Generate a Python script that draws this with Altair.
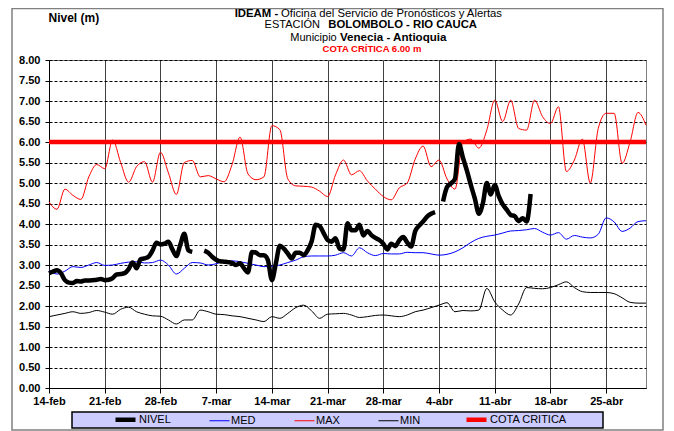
import altair as alt
import pandas as pd

# ---------------- data ----------------
START = "2021-02-14"
END = "2021-04-30"

MED_VALUES = [2.88, 2.78, 2.85, 2.96, 2.94, 3.00, 3.06, 2.99, 3.00, 3.04,
              3.07, 3.08, 3.05, 3.06, 3.12, 3.00, 2.78, 2.92, 3.06, 3.05,
              3.00, 3.03, 3.09, 3.10, 3.08, 3.04, 3.00, 2.96, 2.97, 3.00,
              3.06, 3.12, 3.20, 3.22, 3.22, 3.22, 3.24, 3.30, 3.22, 3.42,
              3.30, 3.23, 3.28, 3.27, 3.27, 3.31, 3.30, 3.30, 3.27, 3.24,
              3.26, 3.32, 3.42, 3.55, 3.65, 3.70, 3.73, 3.78, 3.83, 3.84,
              3.86, 3.89, 3.80, 3.73, 3.79, 3.63, 3.72, 3.68, 3.66, 3.75,
              4.15, 4.05, 3.82, 3.90, 4.06, 4.08]

MAX_VALUES = [4.54, 4.36, 4.85, 4.70, 4.60, 5.15, 5.45, 5.35, 6.05, 5.50,
              5.02, 5.40, 5.52, 5.02, 5.75, 5.25, 4.72, 5.50, 5.55, 5.15,
              5.18, 5.10, 5.03, 5.45, 6.12, 5.22, 5.08, 5.15, 6.40, 6.30,
              5.10, 4.93, 4.92, 4.90, 4.80, 4.67, 5.20, 5.56, 5.20, 5.30,
              5.05, 4.85, 4.67, 4.59, 4.88, 5.00, 5.58, 5.90, 5.40, 5.56,
              5.10, 4.85, 6.00, 6.07, 5.85, 6.29, 7.02, 6.50, 7.02, 6.33,
              6.29, 7.02, 6.62, 6.45, 6.86, 5.28, 5.56, 6.07, 5.00, 6.33,
              6.70, 6.70, 5.48, 6.00, 6.72, 6.41]

MIN_VALUES = [1.74, 1.78, 1.82, 1.86, 1.82, 1.84, 1.89, 1.85, 1.80, 1.92,
              1.97, 1.86, 1.80, 1.76, 1.75, 1.66, 1.56, 1.66, 1.66, 1.90,
              1.86, 1.80, 1.79, 1.76, 1.74, 1.70, 1.66, 1.62, 1.74, 1.70,
              1.82, 1.96, 2.02, 1.88, 1.70, 1.80, 1.81, 1.82, 1.78, 1.72,
              1.74, 1.77, 1.78, 1.76, 1.74, 1.78, 1.86, 1.90, 1.96, 2.02,
              2.08, 1.86, 1.89, 1.88, 1.90, 2.43, 2.10, 1.90, 1.78, 2.05,
              2.45, 2.43, 2.42, 2.45, 2.52, 2.59, 2.45, 2.35, 2.33, 2.33,
              2.33, 2.30, 2.20, 2.09, 2.07, 2.07]

# two readings per day, None = no reading
NIVEL_VALUES = [2.80, 2.84, 2.87, 2.80, 2.63, 2.57, 2.56, 2.61, 2.60, 2.62,
                2.62, 2.63, 2.64, 2.66, 2.63, 2.64, 2.68, 2.77, 2.78, 2.80,
                2.90, 3.06, 2.92, 3.14, 3.16, 3.20, 3.35, 3.54, 3.50, 3.52,
                3.57, 3.38, 3.22, 3.50, 3.76, 3.36, 3.32, None, None, 3.35,
                3.30, 3.20, 3.13, 3.09, 3.08, 3.07, 3.05, 3.00, 3.04, 2.92,
                2.82, 3.32, 3.30, 3.24, 3.24, 3.12, 2.63, 3.04, 3.47, 3.40,
                3.28, 3.16, 3.30, 3.30, 3.24, 3.36, 3.58, 3.98, 3.95, 3.78,
                3.61, 3.57, 3.65, 3.40, 3.38, 4.02, 3.85, 3.85, 3.98, 3.72,
                3.83, 3.73, 3.66, 3.61, 3.52, 3.38, 3.52, 3.46, 3.60, 3.68,
                3.55, 3.45, 3.82, 3.96, 4.06, 4.18, 4.25, 4.29, None, 4.55,
                4.90, 4.99, 5.10, 5.95, 5.62, 5.30, 4.95, 4.62, 4.25, 4.50,
                5.00, 4.72, 4.95, 4.68, 4.48, 4.35, 4.22, 4.19, 4.07, 4.14,
                4.06, 4.73]

COTA_CRITICA = 6.0

SERIES = ["NIVEL", "MED", "MAX", "MIN", "COTA CRITICA"]
SERIES_COLORS = ["#000000", "#0000FF", "#FF0000", "#000000", "#FF0000"]
SERIES_WIDTHS = [4.5, 1, 1, 1, 4.5]
DRAW_ORDER = ["MED", "MAX", "MIN", "COTA CRITICA", "NIVEL"]

X_TICK_DATES = [(2021, 2, 14), (2021, 2, 21), (2021, 2, 28), (2021, 3, 7),
                (2021, 3, 14), (2021, 3, 21), (2021, 3, 28), (2021, 4, 4),
                (2021, 4, 11), (2021, 4, 18), (2021, 4, 25)]
MONTH_ABBR = ["ene", "feb", "mar", "abr", "may", "jun", "jul", "ago",
              "sep", "oct", "nov", "dic"]
Y_TICKS = [0.0, 0.5, 1.0, 1.5, 2.0, 2.5, 3.0, 3.5, 4.0, 4.5, 5.0, 5.5,
           6.0, 6.5, 7.0, 7.5, 8.0]

# ---------------- table ----------------
daily = pd.date_range(START, periods=len(MED_VALUES), freq="D")
half = pd.date_range(START, periods=len(NIVEL_VALUES), freq="12h")

rows = []
for name, vals in [("MED", MED_VALUES), ("MAX", MAX_VALUES), ("MIN", MIN_VALUES)]:
    for d, v in zip(daily, vals):
        rows.append({"fecha": d, "nivel": v, "serie": name, "tramo": 0})
for d in [pd.Timestamp(START), pd.Timestamp(END)]:
    rows.append({"fecha": d, "nivel": COTA_CRITICA, "serie": "COTA CRITICA", "tramo": 0})
seg = 0
for d, v in zip(half, NIVEL_VALUES):
    if v is None:
        seg += 1
        continue
    rows.append({"fecha": d, "nivel": v, "serie": "NIVEL", "tramo": seg})
df = pd.DataFrame(rows)
df["fecha"] = df["fecha"].dt.strftime("%Y-%m-%dT%H:%M:%S")

FONT = "Liberation Sans"

def dt(t):
    return alt.DateTime(year=t[0], month=t[1], date=t[2])

month_js = "[" + ",".join("'%s'" % m for m in MONTH_ABBR) + "]"

x_enc = alt.X(
    "fecha:T",
    scale=alt.Scale(domain=[dt((2021, 2, 14)), dt((2021, 4, 30))], nice=False),
    axis=alt.Axis(
        values=[dt(t) for t in X_TICK_DATES],
        labelExpr="date(datum.value) + '-' + " + month_js + "[month(datum.value)]",
        title=None, grid=True, gridColor="#404040", gridWidth=1,
        tickSize=5, tickColor="black", domainColor="black",
        labelFont=FONT, labelFontSize=11, labelFontWeight="bold",
        labelColor="black", labelPadding=2, labelFlush=False, labelOverlap=False,
    ),
)
y_enc = alt.Y(
    "nivel:Q",
    scale=alt.Scale(domain=[0, 8], nice=False),
    axis=alt.Axis(
        values=Y_TICKS, format=".2f",
        title="Nivel (m)", titleAngle=0, titleX=-1, titleY=-43,
        titleAlign="left", titleBaseline="middle", titleFont=FONT,
        titleFontSize=12, titleFontWeight="bold", titleColor="black",
        grid=True, gridColor="black", gridDash=[3, 2], gridWidth=1,
        tickSize=4, tickColor="black", domainColor="black",
        labelFont=FONT, labelFontSize=11, labelFontWeight="bold",
        labelColor="black", labelPadding=5,
    ),
)
legend = alt.Legend(
    orient="none", legendX=64, legendY=347, direction="horizontal",
    title=None, symbolType="stroke", symbolSize=400, labelFont=FONT,
    labelFontSize=11, labelColor="black", labelOffset=1, columnPadding=36,
    padding=0,
)
color_enc = alt.Color("serie:N", scale=alt.Scale(domain=SERIES, range=SERIES_COLORS), legend=legend)
width_enc = alt.StrokeWidth("serie:N", scale=alt.Scale(type="ordinal", domain=SERIES, range=SERIES_WIDTHS), legend=legend)

base = alt.Chart(df)
line_layers = []
for name in DRAW_ORDER:
    line_layers.append(
        base.transform_filter(alt.datum.serie == name)
        .mark_line(interpolate="monotone")
        .encode(x=x_enc, y=y_enc, color=color_enc, strokeWidth=width_enc,
                detail="tramo:N")
    )

one = alt.Chart(pd.DataFrame({"k": [0]}))
frame = one.mark_rect(fill=None, stroke="#808080", strokeWidth=1.5).encode(
    x=alt.value(-37), x2=alt.value(614), y=alt.value(-51.5), y2=alt.value(370))
legend_box = one.mark_rect(fill="#CCCCFF", stroke="black", strokeWidth=1.5).encode(
    x=alt.value(23), x2=alt.value(554), y=alt.value(352), y2=alt.value(368))

def txt(s, x, y, weight="normal", size=11.5, color="black", align="left"):
    return one.mark_text(text=s, font=FONT, fontSize=size, fontWeight=weight,
                         color=color, align=align, baseline="middle").encode(
        x=alt.value(x), y=alt.value(y))

titles = [
    txt("IDEAM -", 229.3, -46.2, "bold", 11.4, align="right"),
    txt("Oficina del Servicio de Pronósticos y Alertas", 232, -46.2, size=11.3),
    txt("ESTACIÓN", 271, -34.7, size=11, align="right"),
    txt("BOLOMBOLO - RIO CAUCA", 279.3, -34.7, "bold", 11.3),
    txt("Municipio", 287.7, -22.5, size=11, align="right"),
    txt("Venecia - Antioquia", 291, -22.5, "bold", 11.6),
    txt("COTA CRÍTICA 6.00 m", 323, -11.3, "bold", 9.5, "#FF0000", "center"),
]

chart = alt.layer(frame, legend_box, *line_layers, *titles).properties(
    width=597, height=328,
    autosize=alt.AutoSizeParams(type="none"),
    padding={"left": 41, "top": 52, "right": 20, "bottom": 43},
    background="white",
).configure_view(stroke="#808080", strokeWidth=1)

chart.save("out.html", embed_options={"renderer": "svg", "actions": False})
